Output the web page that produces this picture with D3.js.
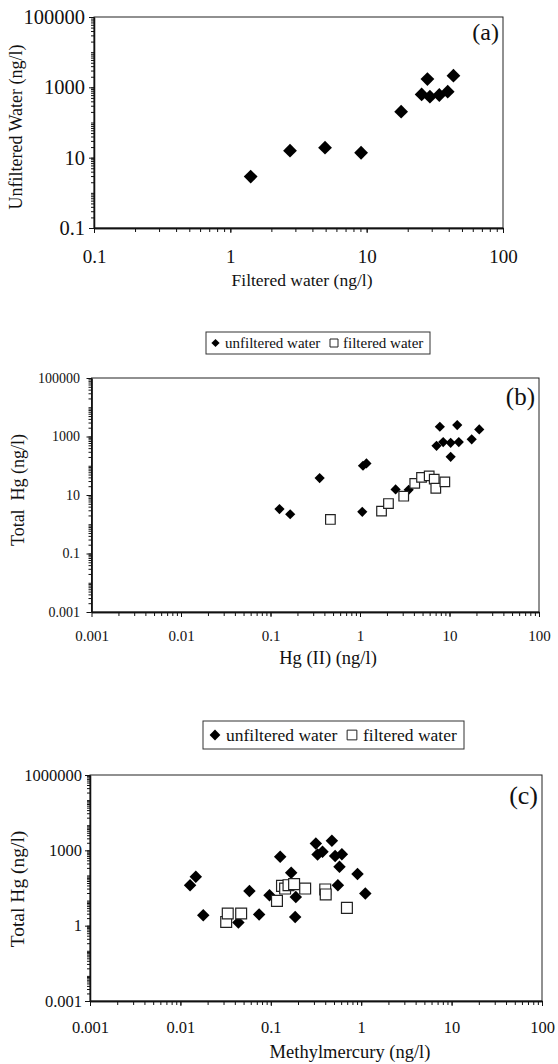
<!DOCTYPE html>
<html>
<head>
<meta charset="utf-8">
<script src="https://cdn.jsdelivr.net/npm/d3@7"></script>
<style>
  body { margin: 0; background: #fff; }
  svg { display: block; font-family: "Liberation Serif", "Times New Roman", serif; }
  .domain { stroke: #111; }
  .tick line { stroke: #111; }
</style>
</head>
<body>
<div id="chart"></div>
<script>
// ---- data ----
// (a) unfiltered vs filtered water, ng/l
const aFiltered   = [1.41, 2.74, 4.95, 9.1, 17.9, 25.3, 27.9, 29.1, 34.1, 39.3, 43.3];
const aUnfiltered = [2.9, 15.8, 19.2, 13.8, 203, 630, 1720, 541, 605, 751, 2140];

// (b) total Hg vs Hg(II)
const bHgUnf    = [0.126, 0.166, 0.354, 1.08, 1.18, 1.06, 2.5, 3.5, 7.8, 12.2, 21.5, 17.7, 7.16, 8.5, 10.3, 12.7, 10.3];
const bTotalUnf = [3.3, 2.2, 38, 100, 120, 2.65, 15.5, 15, 2150, 2460, 1750, 800, 480, 645, 610, 645, 202];
const bHgFil    = [0.467, 1.74, 2.08, 3.08, 4.09, 4.87, 5.93, 6.75, 7.03, 8.87];
const bTotalFil = [1.46, 2.8, 5.1, 9.1, 25, 40, 45, 35, 17, 28];

// (c) total Hg vs methylmercury
const cMeUnf    = [0.0128, 0.0148, 0.0179, 0.0438, 0.058, 0.0743, 0.0967, 0.127, 0.168, 0.189, 0.186,
                   0.315, 0.329, 0.373, 0.474, 0.515, 0.611, 0.575, 0.552, 0.91, 1.11];
const cTotalUnf = [41, 88, 2.6, 1.34, 24, 2.8, 16.4, 550, 127, 14, 2.2,
                   1890, 690, 870, 2400, 590, 700, 220, 41, 113, 19];
const cMeFil    = [0.0321, 0.0334, 0.047, 0.117, 0.133, 0.144, 0.157, 0.181, 0.24, 0.4, 0.405, 0.695];
const cTotalFil = [1.41, 3.05, 3.05, 9.7, 38.5, 30, 41, 45, 30, 27.7, 17.5, 5.1];

// tick labels
const aXTicks = [0.1, 1, 10, 100];
const aYTicks = [0.1, 10, 1000, 100000];
const bXTicks = [0.001, 0.01, 0.1, 1, 10, 100];
const bYTicks = [0.001, 0.1, 10, 1000, 100000];
const cXTicks = [0.001, 0.01, 0.1, 1, 10, 100];
const cYTicks = [0.001, 1, 1000, 1000000];

const W = 558, H = 1064;
const svg = d3.select('#chart').append('svg')
    .attr('width', W).attr('height', H)
    .attr('viewBox', `0 0 ${W} ${H}`);

// minor ticks at k*10^n between the domain ends
function minorTicks(domain){
    let out = [];
    let lo = Math.round(Math.log10(domain[0])), hi = Math.round(Math.log10(domain[1]));
    for (let e = lo; e < hi; e++)
        for (let k = 2; k <= 10; k++) out.push(+(k * Math.pow(10, e)).toPrecision(3));
    return out;
}
const fmt = d => String(d);

function panel(p){
    const x = d3.scaleLog(p.xDomain, [p.left, p.right]);
    const y = d3.scaleLog(p.yDomain, [p.bottom, p.top]);
    const g = svg.append('g');

    // frame
    g.append('rect')
        .attr('x', p.left).attr('y', p.top)
        .attr('width', p.right - p.left).attr('height', p.bottom - p.top)
        .attr('fill', 'none').attr('stroke', '#222').attr('stroke-width', 1);

    // minor ticks
    g.append('g').attr('transform', `translate(0,${p.bottom})`)
        .call(d3.axisBottom(x).tickValues(minorTicks(p.xDomain)).tickSize(4).tickSizeOuter(0).tickFormat(''));
    g.append('g').attr('transform', `translate(${p.left},0)`)
        .call(d3.axisLeft(y).tickValues(minorTicks(p.yDomain)).tickSize(3).tickSizeOuter(0).tickFormat(''));

    // major ticks
    const ax = g.append('g').attr('transform', `translate(0,${p.bottom})`)
        .call(d3.axisBottom(x).tickValues(p.xTicks).tickFormat(fmt).tickSize(5).tickSizeOuter(0).tickPadding(p.xPad));
    const ay = g.append('g').attr('transform', `translate(${p.left},0)`)
        .call(d3.axisLeft(y).tickValues(p.yTicks).tickFormat(fmt).tickSize(5).tickSizeOuter(0).tickPadding(p.yPad));
    ax.attr('font-family', null).attr('font-size', p.xTickFont).selectAll('text').attr('fill', '#111');
    ay.attr('font-family', null).attr('font-size', p.yTickFont).selectAll('text').attr('fill', '#111');
    g.selectAll('.domain').attr('stroke-width', 1.3);

    // axis titles
    g.append('text').attr('x', p.xTitle[0]).attr('y', p.xTitle[1])
        .attr('text-anchor', 'middle').attr('font-size', p.xTitleFont).attr('fill', '#111')
        .text(p.xLabel);
    g.append('text')
        .attr('transform', `translate(${p.yTitle[0]},${p.yTitle[1]}) rotate(-90)`)
        .attr('text-anchor', 'middle').attr('font-size', p.yTitleFont).attr('fill', '#111')
        .style('white-space', 'pre')
        .text(p.yLabel);

    // panel letter
    g.append('text').attr('x', p.right - 4).attr('y', p.letterY)
        .attr('text-anchor', 'end').attr('font-size', p.letterFont).attr('fill', '#111')
        .text(p.letter);

    // series
    p.series.forEach(s => {
        const sym = d3.symbol().type(d3.symbolSquare).size(s.size);
        g.append('g').selectAll('path')
            .data(d3.zip(s.x, s.y))
            .join('path')
            .attr('d', sym)
            .attr('transform', d => `translate(${x(d[0])},${y(d[1])})` + (s.diamond ? ' rotate(45)' : ''))
            .attr('fill', s.diamond ? '#000' : '#fff')
            .attr('stroke', s.diamond ? 'none' : '#222')
            .attr('stroke-width', 1.2);
    });
    return g;
}

function legend(l){
    const g = svg.append('g');
    g.append('rect').attr('x', l.x0).attr('y', l.y0)
        .attr('width', l.x1 - l.x0).attr('height', l.y1 - l.y0)
        .attr('fill', '#fff').attr('stroke', '#333').attr('stroke-width', 1);
    const yc = (l.y0 + l.y1) / 2;
    g.append('path').attr('d', d3.symbol().type(d3.symbolSquare).size(l.dSize)())
        .attr('transform', `translate(${l.dX},${yc}) rotate(45)`).attr('fill', '#000');
    g.append('path').attr('d', d3.symbol().type(d3.symbolSquare).size(l.sSize)())
        .attr('transform', `translate(${l.sX},${yc})`)
        .attr('fill', '#fff').attr('stroke', '#222').attr('stroke-width', 1);
    g.append('text').attr('x', l.t1).attr('y', yc + l.font * 0.33)
        .attr('font-size', l.font).attr('fill', '#111').text('unfiltered water');
    g.append('text').attr('x', l.t2).attr('y', yc + l.font * 0.33)
        .attr('font-size', l.font).attr('fill', '#111').text('filtered water');
}

// (a)
panel({
    left: 94, right: 503, top: 17, bottom: 228,
    xDomain: [0.1, 100], yDomain: [0.1, 100000],
    xTicks: aXTicks, yTicks: aYTicks,
    xTickFont: 19, yTickFont: 20.5, xTitleFont: 17.5, yTitleFont: 18, letterFont: 24,
    xPad: 17, yPad: 4,
    xLabel: 'Filtered water (ng/l)', yLabel: 'Unfiltered Water (ng/l)',
    xTitle: [302, 286], yTitle: [22, 127],
    letter: '(a)', letterY: 40,
    series: [{x: aFiltered, y: aUnfiltered, diamond: true, size: 95}]
});

// (b)
legend({x0: 206, x1: 430, y0: 332, y1: 354, font: 15,
        dX: 215.5, dSize: 34, sX: 334, sSize: 64, t1: 225, t2: 343});
panel({
    left: 91.5, right: 539, top: 378, bottom: 612,
    xDomain: [0.001, 100], yDomain: [0.001, 100000],
    xTicks: bXTicks, yTicks: bYTicks,
    xTickFont: 15, yTickFont: 14, xTitleFont: 18.5, yTitleFont: 18, letterFont: 25,
    xPad: 13, yPad: 6.5,
    xLabel: 'Hg (II) (ng/l)', yLabel: 'Total  Hg (ng/l)',
    xTitle: [328, 664], yTitle: [24, 490],
    letter: '(b)', letterY: 405,
    series: [
        {x: bHgUnf, y: bTotalUnf, diamond: true, size: 52},
        {x: bHgFil, y: bTotalFil, diamond: false, size: 92}
    ]
});

// (c)
legend({x0: 203, x1: 464, y0: 721, y1: 749, font: 17.5,
        dX: 215, dSize: 58, sX: 352, sSize: 95, t1: 226, t2: 363});
panel({
    left: 90, right: 542, top: 775, bottom: 1001,
    xDomain: [0.001, 100], yDomain: [0.001, 1000000],
    xTicks: cXTicks, yTicks: cYTicks,
    xTickFont: 16.5, yTickFont: 16.5, xTitleFont: 18.5, yTitleFont: 19.5, letterFont: 26,
    xPad: 15, yPad: 3,
    xLabel: 'Methylmercury (ng/l)', yLabel: 'Total Hg (ng/l)',
    xTitle: [350, 1058], yTitle: [23.5, 889],
    letter: '(c)', letterY: 804,
    series: [
        {x: cMeUnf, y: cTotalUnf, diamond: true, size: 78},
        {x: cMeFil, y: cTotalFil, diamond: false, size: 118}
    ]
});
</script>
</body>
</html>
